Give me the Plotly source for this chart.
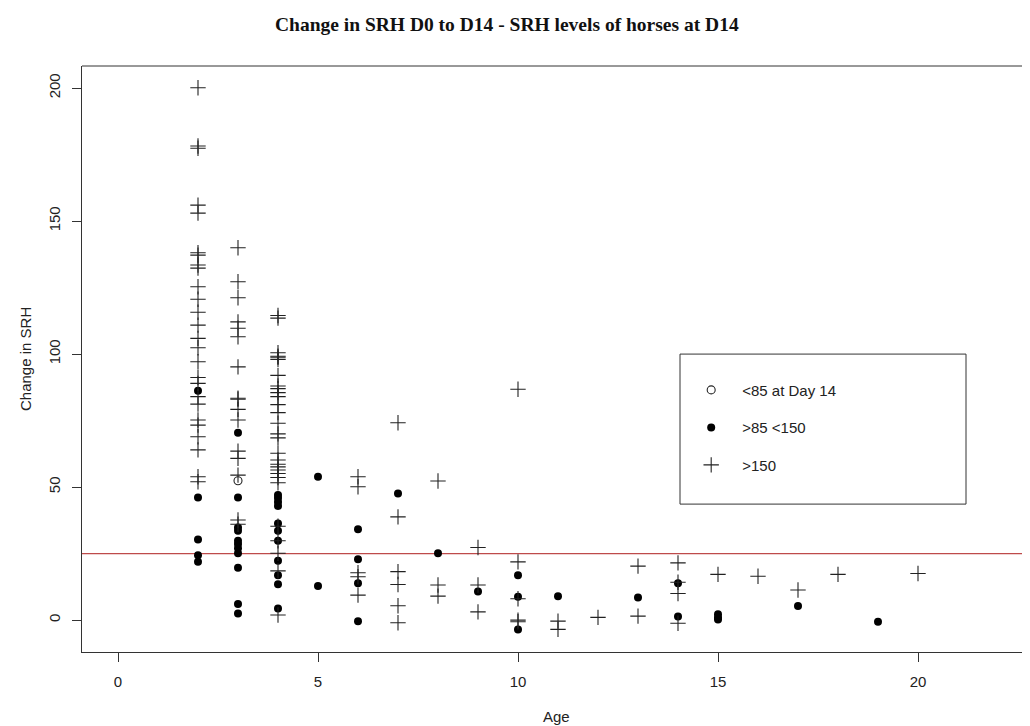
import plotly.graph_objects as go

# ---------------- data ----------------
open_age = [3]
open_chg = [52.4]

dot_age = ([2] * 5 + [3] * 11 + [4] * 11 + [5] * 2 + [6] * 4 + [7, 8, 9] + [10] * 3 +
           [11, 13] + [14] * 2 + [15] * 3 + [17, 19])
dot_chg = [86.2, 46.1, 30.3, 24.4, 21.9,
           70.4, 46.1, 34.8, 33.6, 29.8, 28.6, 27.0, 25.1, 19.7, 6.0, 2.5,
           47.0, 45.9, 44.4, 42.9, 36.3, 33.6, 29.8, 22.3, 16.9, 13.5, 4.4,
           53.9, 12.8,
           34.1, 22.9, 13.8, -0.4,
           47.6, 25.1, 10.7,
           16.9, 8.8, -3.5,
           9.0, 8.5,
           13.8, 1.3,
           2.2, 1.0, 0.2,
           5.3, -0.6]

plus_age = ([2] * 26 + [3] * 16 + [4] * 29 + [6] * 5 + [7] * 6 + [8] * 3 + [9] * 3 +
            [10] * 5 + [11] * 2 + [12] + [13] * 2 + [14] * 4 + [15, 16, 17, 18, 20])
plus_chg = [200.1, 178.2, 177.4, 156.0, 153.0, 138.1, 137.2, 133.5, 132.3, 125.3,
            120.6, 115.7, 110.9, 105.9, 102.4, 97.1, 91.2, 89.0, 84.0, 81.2,
            75.2, 73.3, 68.9, 64.0, 53.9, 52.0,
            140.0, 127.2, 121.2, 112.1, 109.7, 106.5, 95.2, 83.4, 83.0, 79.2,
            75.2, 63.5, 60.8, 54.5, 37.6, 36.0,
            114.5, 113.5, 100.5, 99.2, 98.8, 98.0, 92.0, 88.0, 87.0, 85.5,
            84.0, 81.0, 78.0, 74.0, 70.0, 68.5, 62.7, 60.2, 58.6, 57.6,
            56.4, 55.1, 53.6, 51.6, 35.3, 29.8, 25.1, 18.5, 1.9,
            53.9, 50.1, 17.8, 16.3, 9.4,
            74.2, 38.8, 18.2, 13.4, 5.4, -1.0,
            52.3, 13.2, 9.0,
            27.3, 13.2, 3.1,
            86.8, 21.9, 8.0, 0.0, -0.6,
            -0.4, -3.5,
            1.0,
            20.3, 1.5,
            21.5, 14.2, 10.0, -1.2,
            17.2, 16.5, 11.3, 17.2, 17.5]

ref_level = 25
x_ticks = [0, 5, 10, 15, 20]
y_ticks = [0, 50, 100, 150, 200]
legend_labels = ["<85 at Day 14", ">85 <150", ">150"]

title_text = "Change in SRH D0 to D14 - SRH levels of horses at D14"
x_title = "Age"
y_title = "Change in SRH"

# ---------------- figure ----------------
# the page body adds an 8px margin, so the figure is drawn 8px smaller/shifted
W, H = 1022, 718
L, R, T, B = 74, 0, 58, 74
PW, PH = W - L - R, H - T - B

fig = go.Figure()
fig.add_trace(go.Scatter(
    x=open_age, y=open_chg, mode="markers", name=legend_labels[0], legendgroup="a",
    marker=dict(symbol="circle-open", size=8, color="#222", line=dict(width=1.1, color="#222"))))
fig.add_trace(go.Scatter(
    x=dot_age, y=dot_chg, mode="markers", name=legend_labels[1], legendgroup="b",
    marker=dict(symbol="circle", size=8, color="#000", line=dict(width=0))))
fig.add_trace(go.Scatter(
    x=plus_age, y=plus_chg, mode="markers", name=legend_labels[2], legendgroup="c",
    marker=dict(symbol="cross-thin", size=11, color="#222", line=dict(width=1.1, color="#222"))))

axis_font = dict(family="Liberation Sans, Arial", size=15, color="#222")

fig.update_layout(
    width=W, height=H,
    margin=dict(l=L, r=R, t=T, b=B),
    paper_bgcolor="white", plot_bgcolor="white",
    showlegend=True,
    legend=dict(x=0.631, y=0.475, xanchor="left", yanchor="top",
                bgcolor="rgba(0,0,0,0)", borderwidth=0,
                font=dict(family="Liberation Sans, Arial", size=15, color="#222"),
                tracegroupgap=15, itemwidth=52),
    xaxis=dict(range=[-0.9, PW / 40 - 0.9], tickvals=x_ticks, ticks="outside",
               ticklen=9, tickwidth=1, tickcolor="#333", showgrid=False, zeroline=False,
               showline=True, linecolor="#333", linewidth=1, tickfont=axis_font,
               ticklabelstandoff=7),
    yaxis=dict(range=[-12.0, 208.3], tickvals=y_ticks, ticks="outside",
               ticklen=9, tickwidth=1, tickcolor="#333", showgrid=False, zeroline=False,
               showline=True, linecolor="#333", linewidth=1, tickfont=axis_font,
               tickangle=-90, ticklabelstandoff=6),
    font=dict(family="Liberation Sans, Arial"),
)

# reference line
fig.add_shape(type="line", xref="paper", x0=0, x1=1, yref="y", y0=ref_level, y1=ref_level,
              line=dict(color="rgb(190,75,75)", width=1.2), layer="below")
# top border of plot box
fig.add_shape(type="line", xref="paper", x0=0, x1=1, yref="paper", y0=1, y1=1,
              line=dict(color="#333", width=1))
# legend box
fig.add_shape(type="rect", xref="x", x0=14.05, x1=21.2, yref="y", y0=43.6, y1=100,
              line=dict(color="#333", width=1), fillcolor="rgba(0,0,0,0)")

# titles
fig.add_annotation(text="<b>" + title_text + "</b>", xref="paper", yref="paper",
                   x=(499 - L) / PW, y=1 + (T - 16) / PH,
                   xanchor="center", yanchor="middle", showarrow=False,
                   font=dict(family="Liberation Serif, Times New Roman", size=19.5, color="#111"))
fig.add_annotation(text=x_title, xref="paper", yref="paper",
                   x=0.5, y=-(708 - (H - B)) / PH,
                   xanchor="center", yanchor="middle", showarrow=False,
                   font=axis_font)
fig.add_annotation(text=y_title, xref="paper", yref="paper",
                   x=-(L - 17) / PW, y=0.5, textangle=-90,
                   xanchor="center", yanchor="middle", showarrow=False,
                   font=axis_font)

fig.write_html("out.html")
